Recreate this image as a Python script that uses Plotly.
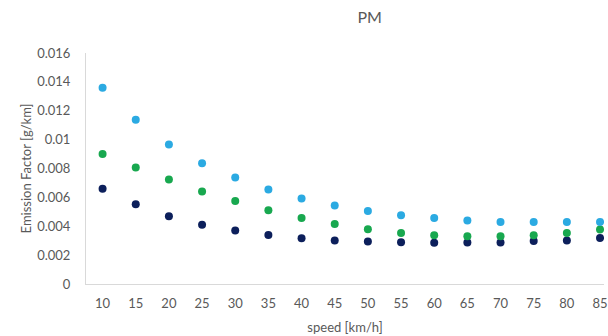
import plotly.graph_objects as go

speed = [10, 15, 20, 25, 30, 35, 40, 45, 50, 55, 60, 65, 70, 75, 80, 85]
series_light = [0.0136, 0.01138, 0.00966, 0.00837, 0.00738, 0.00655, 0.00593, 0.00543,
                0.00506, 0.00476, 0.00457, 0.00439, 0.0043, 0.0043, 0.0043, 0.0043]
series_green = [0.00901, 0.00807, 0.00724, 0.00641, 0.00575, 0.0051, 0.00457, 0.00416,
                0.00379, 0.00354, 0.00338, 0.00331, 0.00331, 0.00338, 0.00354, 0.00377]
series_navy = [0.0066, 0.00552, 0.00469, 0.00411, 0.0037, 0.0034, 0.00317, 0.00302,
               0.00294, 0.0029, 0.00285, 0.00287, 0.00287, 0.00297, 0.00301, 0.00319]
y_tickvals = [0, 0.002, 0.004, 0.006, 0.008, 0.01, 0.012, 0.014, 0.016]
y_ticktext = ["0", "0.002", "0.004", "0.006", "0.008", "0.01", "0.012", "0.014", "0.016"]

FONT = "Lato, 'Open Sans', sans-serif"
GREY = "#595959"

fig = go.Figure()
for ys, col in [(series_navy, "#0C1F5B"), (series_green, "#18A84F"), (series_light, "#2BAAE2")]:
    fig.add_trace(go.Scatter(x=speed, y=ys, mode="markers",
                             marker=dict(size=8, color=col), showlegend=False))

fig.update_layout(
    width=608, height=336,
    margin=dict(l=86, r=0, t=53, b=52),
    paper_bgcolor="white", plot_bgcolor="white",
    font=dict(family=FONT, color=GREY, size=13),
    title=dict(text="PM", x=333 / 608, xanchor="center", xref="paper",
               y=1 - 17 / 336, yanchor="middle", font=dict(size=16, color=GREY)),
)
fig.update_xaxes(range=[7.5, 85.6], tickmode="array", tickvals=speed,
                 ticktext=[str(s) for s in speed], ticklabeloverflow="allow",
                 showgrid=False, zeroline=False, showline=True,
                 linecolor="#D9D9D9", linewidth=1, ticks="", ticklabelstandoff=7,
                 title=dict(text="speed [km/h]", standoff=13, font=dict(size=13, color=GREY)))
fig.update_yaxes(range=[0, 0.016], tickmode="array", tickvals=y_tickvals, ticktext=y_ticktext,
                 showgrid=False, zeroline=False, showline=True,
                 linecolor="#D9D9D9", linewidth=1, ticks="", ticklabelstandoff=12,
                 title=dict(text="Emission Factor [g/km]", standoff=2, font=dict(size=13, color=GREY)))

fig.write_html("out.html")
